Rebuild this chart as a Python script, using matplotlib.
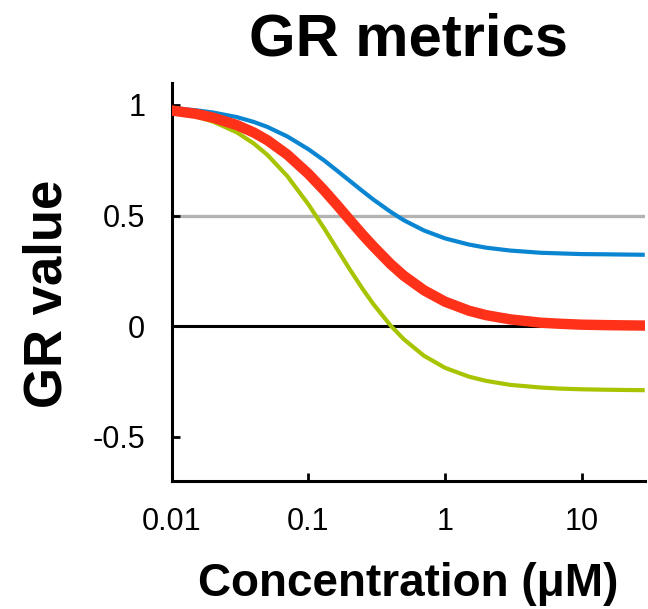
import matplotlib
matplotlib.use('Agg')
from matplotlib import pyplot as plt

# wartosci (stezenie w uM)
konc = [0.01, 0.015, 0.02, 0.03, 0.04, 0.05, 0.07, 0.1, 0.13, 0.16, 0.2, 0.25, 0.3,
        0.4, 0.5, 0.7, 1, 1.5, 2, 3, 5, 7, 10, 15, 20, 28]
gr_niebieski = [0.986, 0.976, 0.966, 0.945, 0.923, 0.901, 0.858, 0.800, 0.750, 0.706,
                0.658, 0.610, 0.572, 0.517, 0.479, 0.433, 0.397, 0.369, 0.355, 0.342,
                0.332, 0.329, 0.326, 0.325, 0.324, 0.323]
gr_czerwony = [0.975, 0.960, 0.943, 0.909, 0.875, 0.841, 0.776, 0.689, 0.615, 0.552,
               0.482, 0.413, 0.360, 0.281, 0.228, 0.163, 0.111, 0.070, 0.050, 0.031,
               0.016, 0.011, 0.007, 0.005, 0.004, 0.003]
gr_zielony = [0.965, 0.948, 0.925, 0.876, 0.825, 0.775, 0.679, 0.551, 0.444, 0.355,
              0.259, 0.168, 0.099, 0.003, -0.059, -0.133, -0.188, -0.228, -0.247,
              -0.265, -0.277, -0.282, -0.285, -0.287, -0.288, -0.289]

y_ticks = [-0.5, 0, 0.5, 1]
y_tick_labels = ['-0.5', '0', '0.5', '1']
x_ticks = [0.01, 0.1, 1, 10]
x_tick_labels = ['0.01', '0.1', '1', '10']

plt.rcParams['font.family'] = ['Liberation Sans', 'DejaVu Sans']

fig = plt.figure(figsize=(6.48, 6.09), dpi=100)
ax = fig.add_axes([0.265, 0.21, 0.73, 0.654])

# linie odniesienia
ax.axhline(0.5, color='#b3b3b3', lw=2.4, zorder=1)
ax.axhline(0, color='black', lw=2.2, zorder=1)

# krzywe GR
ax.plot(konc, gr_niebieski, color='#0a85d2', lw=3.0, zorder=3)
ax.plot(konc, gr_zielony, color='#a8c300', lw=3.0, zorder=3)
ax.plot(konc, gr_czerwony, color='#ff3219', lw=7.5, zorder=4)

ax.set_xscale('log')
ax.set_xlim(0.01, 29)
ax.set_ylim(-0.7, 1.1)
ax.set_xticks(x_ticks)
ax.set_xticklabels(x_tick_labels)
ax.set_yticks(y_ticks)
ax.set_yticklabels(y_tick_labels)
ax.minorticks_off()
ax.tick_params(direction='in', length=6, width=2, labelsize=22, pad=19)

for s in ['top', 'right']:
    ax.spines[s].set_visible(False)
for s in ['left', 'bottom']:
    ax.spines[s].set_linewidth(2.2)

ax.set_title('GR metrics', fontsize=43, fontweight='bold', pad=20)
ax.set_xlabel('Concentration (μM)', fontsize=33, fontweight='bold', labelpad=18)
ax.set_ylabel('GR value', fontsize=38, fontweight='bold')
ax.yaxis.set_label_coords(-0.21, 0.47)

fig.savefig('out.png', dpi=100)
